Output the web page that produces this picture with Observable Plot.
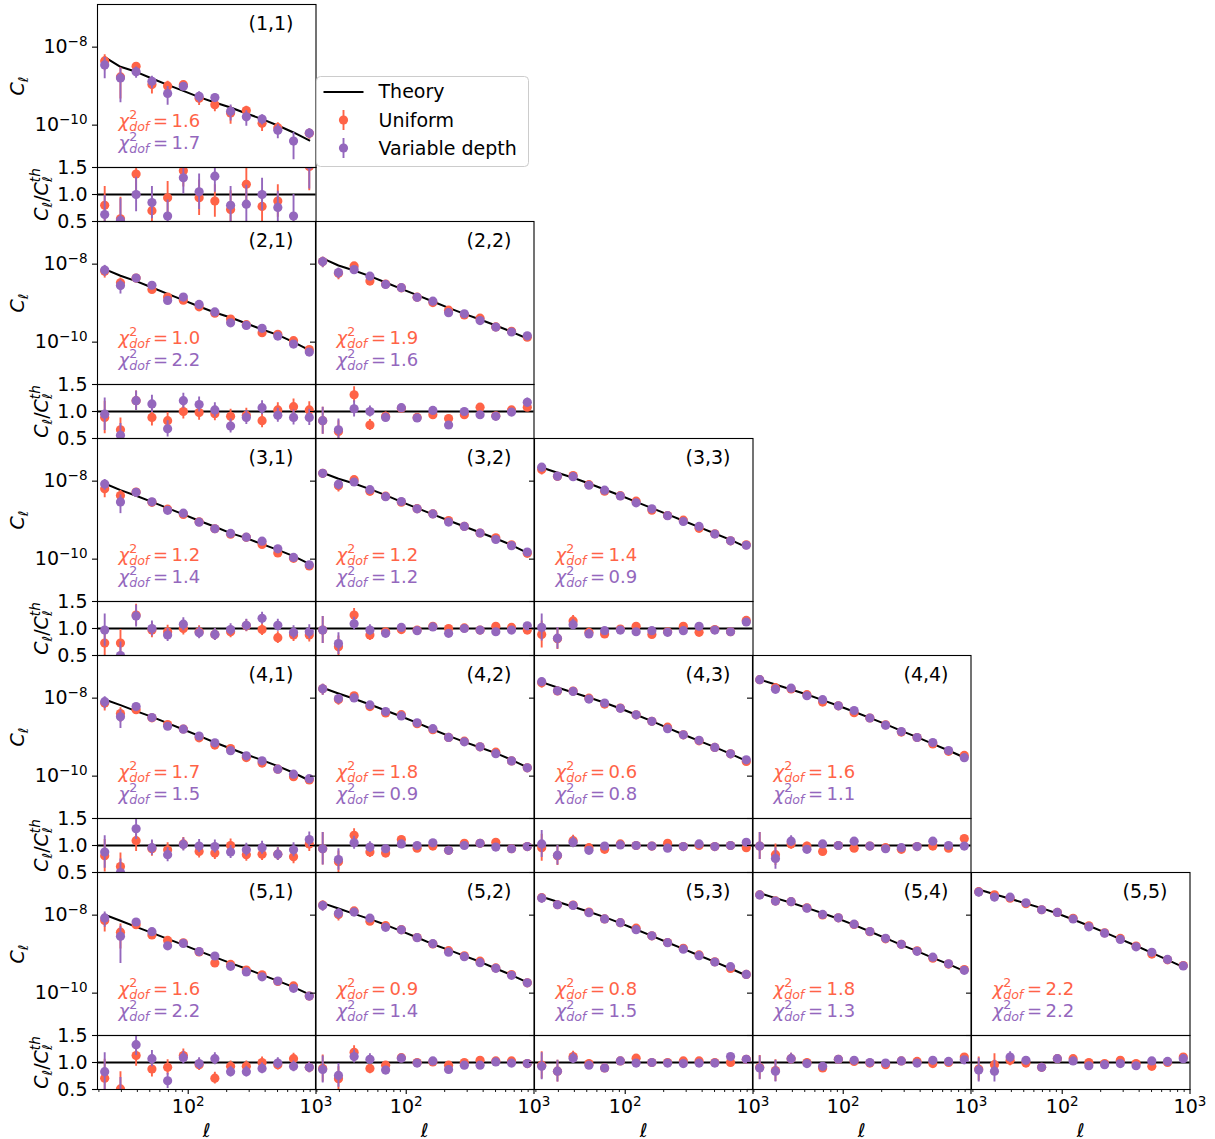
<!DOCTYPE html>
<html>
<head>
<meta charset="utf-8">
<script src="https://cdn.jsdelivr.net/npm/d3@7"></script>
<script src="https://cdn.jsdelivr.net/npm/@observablehq/plot@0.6"></script>
<style>
  body { margin: 0; background: #fff; }
  #fig { position: relative; width: 1215px; height: 1139px; font-family: "DejaVu Sans", sans-serif; }
  #fig > svg { position: absolute; }
</style>
</head>
<body>
<div id="fig"></div>
<script>
// ---------- data ----------
const ell = [22.2, 29.5, 39.1, 52.0, 69.0, 91.6, 121.7, 161.6, 214.6, 285.0, 378.4, 502.5, 667.2, 886.0];

const theory_1_1 = [5.55e-9, 3.13e-9, 2.33e-9, 1.57e-9, 1.08e-9, 7.59e-10, 5.22e-10, 3.81e-10, 2.84e-10, 1.99e-10, 1.43e-10, 9.80e-11, 6.49e-11, 4.05e-11];
const uniform_1_1 = [0.80, 0.55, 1.38, 0.70, 0.94, 1.44, 0.94, 0.88, 0.72, 1.19, 0.78, 0.88, null, 1.52];
const variable_1_1 = [0.63, 0.52, 1.00, 0.85, 0.60, 1.31, 1.05, 1.34, 0.80, 0.82, 1.00, 0.76, 0.60, 1.55];
const error_1_1 = [0.35, 0.40, 0.32, 0.30, 0.30, 0.30, 0.33, 0.30, 0.35, 0.35, 0.30, 0.30, 0.40, 0.45];

const theory_2_1 = [7.44e-9, 5.03e-9, 3.66e-9, 2.52e-9, 1.73e-9, 1.19e-9, 8.22e-10, 5.77e-10, 4.29e-10, 3.01e-10, 2.11e-10, 1.54e-10, 1.00e-10, 6.24e-11];
const uniform_2_1 = [0.89, 0.66, 1.20, 0.89, 0.83, 1.00, 0.98, 0.96, 0.91, 0.93, 0.83, 1.03, 1.09, 1.03];
const variable_2_1 = [0.95, 0.56, 1.20, 1.14, 0.68, 1.20, 1.13, 1.03, 0.73, 0.89, 1.07, 0.93, 0.89, 0.89];
const error_2_1 = [0.30, 0.22, 0.18, 0.16, 0.15, 0.14, 0.14, 0.13, 0.13, 0.13, 0.13, 0.13, 0.14, 0.15];

const theory_2_2 = [1.40e-8, 9.24e-9, 6.89e-9, 4.92e-9, 3.39e-9, 2.33e-9, 1.60e-9, 1.10e-9, 7.59e-10, 5.32e-10, 3.81e-10, 2.67e-10, 1.84e-10, 1.24e-10];
const uniform_2_2 = [0.83, 0.63, 1.31, 0.75, 0.91, 1.06, 0.89, 0.94, 0.87, 0.94, 1.08, 0.92, 1.03, 1.08];
const variable_2_2 = [0.83, 0.66, 1.05, 1.00, 0.89, 1.07, 0.88, 1.02, 0.75, 1.00, 0.94, 0.91, 0.99, 1.17];
const error_2_2 = [0.25, 0.20, 0.15, 0.10, 0.08, 0.07, 0.06, 0.06, 0.06, 0.06, 0.06, 0.06, 0.06, 0.08];

const theory_3_1 = [8.71e-9, 5.87e-9, 4.21e-9, 2.95e-9, 2.03e-9, 1.40e-9, 9.62e-10, 6.75e-10, 4.65e-10, 3.45e-10, 2.43e-10, 1.73e-10, 1.19e-10, 7.59e-11];
const uniform_3_1 = [0.73, 0.73, 1.25, 0.97, 0.94, 1.00, 0.94, 0.89, 0.94, 1.05, 0.98, 0.83, 0.88, 0.88];
const variable_3_1 = [0.97, 0.50, 1.23, 1.00, 0.88, 1.08, 0.92, 0.89, 0.98, 1.06, 1.19, 1.06, 0.93, 0.94];
const error_3_1 = [0.30, 0.25, 0.20, 0.14, 0.12, 0.12, 0.11, 0.11, 0.11, 0.11, 0.11, 0.11, 0.12, 0.13];

const theory_3_2 = [1.64e-8, 1.15e-8, 8.71e-9, 6.24e-9, 4.38e-9, 2.95e-9, 2.03e-9, 1.40e-9, 9.80e-10, 6.88e-10, 4.83e-10, 3.39e-10, 2.29e-10, 1.45e-10];
const uniform_3_2 = [0.97, 0.66, 1.25, 0.88, 0.94, 0.98, 0.97, 1.04, 1.00, 1.01, 0.97, 1.04, 1.02, 0.97];
const variable_3_2 = [0.97, 0.72, 1.09, 0.97, 0.91, 1.02, 0.96, 1.03, 0.91, 1.00, 0.97, 0.94, 0.97, 1.05];
const error_3_2 = [0.25, 0.20, 0.12, 0.10, 0.07, 0.06, 0.05, 0.05, 0.05, 0.05, 0.05, 0.05, 0.05, 0.05];

const theory_3_3 = [2.24e-8, 1.64e-8, 1.22e-8, 8.71e-9, 6.11e-9, 4.29e-9, 2.95e-9, 2.03e-9, 1.40e-9, 9.62e-10, 6.62e-10, 4.55e-10, 3.13e-10, 2.03e-10];
const uniform_3_3 = [0.89, 0.81, 1.14, 0.93, 0.90, 0.99, 1.04, 0.89, 0.94, 1.04, 0.93, 0.98, 0.94, 1.15];
const variable_3_3 = [1.02, 0.82, 1.07, 0.90, 0.96, 0.97, 0.94, 0.96, 0.93, 0.96, 1.04, 0.97, 0.94, 1.12];
const error_3_3 = [0.25, 0.20, 0.10, 0.08, 0.06, 0.05, 0.04, 0.04, 0.04, 0.04, 0.04, 0.04, 0.04, 0.05];

const theory_4_1 = [9.24e-9, 6.62e-9, 4.65e-9, 3.32e-9, 2.29e-9, 1.57e-9, 1.08e-9, 7.30e-10, 5.12e-10, 3.60e-10, 2.57e-10, 1.80e-10, 1.22e-10, 7.74e-11];
const uniform_4_1 = [0.81, 0.61, 1.09, 0.94, 0.92, 1.03, 0.89, 0.86, 1.00, 0.83, 0.84, 0.84, 0.79, 1.03];
const variable_4_1 = [0.88, 0.50, 1.31, 0.96, 0.83, 1.02, 0.99, 0.98, 0.88, 0.92, 0.96, 0.84, 0.92, 1.11];
const error_4_1 = [0.30, 0.25, 0.20, 0.14, 0.13, 0.12, 0.12, 0.12, 0.12, 0.12, 0.12, 0.12, 0.13, 0.14];

const theory_4_2 = [1.84e-8, 1.32e-8, 9.62e-9, 6.89e-9, 4.83e-9, 3.39e-9, 2.33e-9, 1.57e-9, 1.08e-9, 7.59e-10, 5.43e-10, 3.89e-10, 2.62e-10, 1.67e-10];
const uniform_4_2 = [0.94, 0.70, 1.19, 0.88, 0.86, 1.11, 0.95, 0.99, 0.91, 1.04, 1.04, 1.06, 0.94, 0.98];
const variable_4_2 = [0.94, 0.74, 1.05, 0.97, 0.94, 1.03, 1.00, 1.05, 0.91, 1.00, 1.04, 0.97, 0.94, 0.98];
const error_4_2 = [0.30, 0.20, 0.12, 0.10, 0.08, 0.06, 0.05, 0.05, 0.04, 0.04, 0.04, 0.04, 0.04, 0.04];

const theory_4_3 = [2.57e-8, 1.88e-8, 1.40e-8, 1.04e-8, 7.59e-9, 5.43e-9, 3.74e-9, 2.57e-9, 1.73e-9, 1.17e-9, 8.05e-10, 5.55e-10, 3.74e-10, 2.47e-10];
const uniform_4_3 = [0.96, 0.81, 1.09, 0.96, 0.93, 1.03, 1.00, 0.99, 1.04, 0.98, 1.00, 0.98, 1.00, 0.96];
const variable_4_3 = [1.03, 0.82, 1.06, 0.91, 0.99, 1.01, 1.00, 0.99, 0.95, 0.98, 1.03, 0.98, 1.00, 1.06];
const error_4_3 = [0.25, 0.18, 0.10, 0.07, 0.05, 0.04, 0.04, 0.03, 0.03, 0.03, 0.03, 0.03, 0.03, 0.03];

const theory_4_4 = [3.01e-8, 2.24e-8, 1.67e-8, 1.24e-8, 8.89e-9, 6.36e-9, 4.47e-9, 3.13e-9, 2.15e-9, 1.45e-9, 1.00e-9, 6.75e-10, 4.55e-10, 3.01e-10];
const uniform_4_4 = [0.99, 0.83, 1.03, 0.99, 0.89, 1.00, 0.95, 0.99, 0.96, 0.93, 0.98, 0.99, 0.95, 1.13];
const variable_4_4 = [0.99, 0.76, 1.08, 0.93, 1.03, 1.00, 1.08, 0.99, 0.94, 0.96, 0.98, 1.08, 1.00, 0.99];
const error_4_4 = [0.25, 0.20, 0.10, 0.07, 0.05, 0.04, 0.04, 0.03, 0.03, 0.03, 0.03, 0.03, 0.03, 0.03];

const theory_5_1 = [1.02e-8, 7.16e-9, 5.02e-9, 3.52e-9, 2.47e-9, 1.73e-9, 1.19e-9, 8.38e-10, 5.87e-10, 4.21e-10, 2.95e-10, 2.07e-10, 1.43e-10, 9.25e-11];
const uniform_5_1 = [0.71, 0.51, 1.13, 0.88, 0.91, 1.13, 0.96, 0.71, 0.93, 0.93, 1.00, 0.96, 1.07, 0.91];
const variable_5_1 = [0.83, 0.40, 1.33, 1.07, 0.66, 1.09, 0.98, 1.07, 0.83, 0.83, 0.89, 0.99, 0.93, 0.91];
const error_5_1 = [0.35, 0.32, 0.20, 0.15, 0.14, 0.12, 0.11, 0.11, 0.10, 0.10, 0.10, 0.10, 0.10, 0.10];

const theory_5_2 = [2.03e-8, 1.48e-8, 1.08e-8, 7.89e-9, 5.65e-9, 3.89e-9, 2.67e-9, 1.80e-9, 1.29e-9, 9.06e-10, 6.36e-10, 4.29e-10, 2.90e-10, 1.88e-10];
const uniform_5_2 = [0.89, 0.70, 1.19, 0.89, 0.95, 1.09, 1.00, 1.01, 0.95, 1.00, 1.04, 1.03, 1.03, 0.98];
const variable_5_2 = [0.87, 0.76, 1.11, 1.06, 0.86, 1.08, 0.99, 1.03, 0.87, 0.95, 0.95, 1.01, 0.99, 0.98];
const error_5_2 = [0.25, 0.22, 0.12, 0.10, 0.07, 0.05, 0.04, 0.04, 0.04, 0.04, 0.04, 0.04, 0.04, 0.04];

const theory_5_3 = [2.95e-8, 2.20e-8, 1.64e-8, 1.22e-8, 8.89e-9, 6.24e-9, 4.29e-9, 2.95e-9, 1.99e-9, 1.37e-9, 9.25e-10, 6.36e-10, 4.29e-10, 2.84e-10];
const uniform_5_3 = [0.95, 0.84, 1.11, 0.98, 0.90, 1.03, 1.08, 1.00, 1.00, 1.03, 1.03, 1.00, 1.00, 1.06];
const variable_5_3 = [0.93, 0.84, 1.08, 0.95, 0.90, 1.03, 0.99, 1.00, 0.99, 0.98, 0.99, 0.99, 1.11, 1.06];
const error_5_3 = [0.25, 0.20, 0.10, 0.07, 0.05, 0.04, 0.03, 0.03, 0.03, 0.03, 0.03, 0.03, 0.03, 0.03];

const theory_5_4 = [3.66e-8, 2.73e-8, 2.07e-8, 1.54e-8, 1.12e-8, 8.05e-9, 5.65e-9, 3.81e-9, 2.57e-9, 1.73e-9, 1.19e-9, 8.05e-10, 5.55e-10, 3.66e-10];
const uniform_5_4 = [0.91, 0.85, 1.07, 1.00, 0.90, 1.06, 1.02, 0.99, 0.96, 1.03, 1.02, 0.98, 1.00, 1.10];
const variable_5_4 = [0.90, 0.84, 1.07, 0.98, 0.93, 1.06, 1.04, 1.00, 0.99, 1.03, 0.99, 1.04, 1.02, 1.05];
const error_5_4 = [0.22, 0.20, 0.10, 0.07, 0.05, 0.04, 0.03, 0.03, 0.03, 0.03, 0.03, 0.03, 0.03, 0.03];

const theory_5_5 = [4.55e-8, 3.45e-8, 2.62e-8, 1.99e-8, 1.51e-8, 1.10e-8, 7.74e-9, 5.33e-9, 3.60e-9, 2.43e-9, 1.64e-9, 1.08e-9, 7.16e-10, 4.65e-10];
const uniform_5_5 = [0.88, 0.96, 1.04, 0.99, 0.91, 1.07, 1.07, 1.00, 0.98, 1.04, 0.98, 0.93, 1.00, 1.10];
const variable_5_5 = [0.86, 0.84, 1.10, 1.04, 0.91, 1.07, 1.03, 0.94, 0.96, 0.98, 0.94, 1.03, 1.02, 1.07];
const error_5_5 = [0.22, 0.20, 0.10, 0.07, 0.05, 0.04, 0.03, 0.03, 0.03, 0.03, 0.03, 0.03, 0.03, 0.03];

const panelRows = [1, 2, 2, 3, 3, 3, 4, 4, 4, 4, 5, 5, 5, 5, 5];
const panelCols = [1, 1, 2, 1, 2, 3, 1, 2, 3, 4, 1, 2, 3, 4, 5];
const chiUniform  = ["1.6", "1.0", "1.9", "1.2", "1.2", "1.4", "1.7", "1.8", "0.6", "1.6", "1.6", "0.9", "0.8", "1.8", "2.2"];
const chiVariable = ["1.7", "2.2", "1.6", "1.4", "1.2", "0.9", "1.5", "0.9", "0.8", "1.1", "2.2", "1.4", "1.5", "1.3", "2.2"];

const yTicksTop = [1e-8, 1e-10];
const yTicksRatio = [0.5, 1.0, 1.5];
const xTicksMajor = [100, 1000];
const xTicksMinor = [20, 30, 40, 50, 60, 70, 80, 90, 200, 300, 400, 500, 600, 700, 800, 900];
const legendLabels = ["Theory", "Uniform", "Variable depth"];

// ---------- layout / style ----------
const RED = "#ff6347", PURPLE = "#9467bd";
const L0 = 96.7, CW = 218.5, T0 = 4, RH = 217, TH = 163, RTH = 54;
const FS = 19, SUB = 13.5, CHI_FS = 18, CHI_SUB = 12.6;
const xDomain = [19.5, 1000];
const yDomainTop = [8.2e-12, 1.24e-7];
const yDomainRatio = [0.5, 1.5];

const lookup = {
  "1,1": [theory_1_1, uniform_1_1, variable_1_1, error_1_1],
  "2,1": [theory_2_1, uniform_2_1, variable_2_1, error_2_1],
  "2,2": [theory_2_2, uniform_2_2, variable_2_2, error_2_2],
  "3,1": [theory_3_1, uniform_3_1, variable_3_1, error_3_1],
  "3,2": [theory_3_2, uniform_3_2, variable_3_2, error_3_2],
  "3,3": [theory_3_3, uniform_3_3, variable_3_3, error_3_3],
  "4,1": [theory_4_1, uniform_4_1, variable_4_1, error_4_1],
  "4,2": [theory_4_2, uniform_4_2, variable_4_2, error_4_2],
  "4,3": [theory_4_3, uniform_4_3, variable_4_3, error_4_3],
  "4,4": [theory_4_4, uniform_4_4, variable_4_4, error_4_4],
  "5,1": [theory_5_1, uniform_5_1, variable_5_1, error_5_1],
  "5,2": [theory_5_2, uniform_5_2, variable_5_2, error_5_2],
  "5,3": [theory_5_3, uniform_5_3, variable_5_3, error_5_3],
  "5,4": [theory_5_4, uniform_5_4, variable_5_4, error_5_4],
  "5,5": [theory_5_5, uniform_5_5, variable_5_5, error_5_5]
};

const svgStyle = {
  fontFamily: "'DejaVu Sans', sans-serif",
  fontSize: FS + "px",
  background: "transparent",
  overflow: "visible",
  color: "black"
};

const powFmt = d => "10^" + String(Math.round(Math.log10(d))).replace("-", "\u2212");
const blank = () => "";

// rich text (super/subscripts) as tspans
const NS = "http://www.w3.org/2000/svg";
function setParts(t, parts) {
  while (t.firstChild) t.removeChild(t.firstChild);
  for (const p of parts) {
    const ts = document.createElementNS(NS, "tspan");
    ts.textContent = p.t;
    if (p.size) ts.setAttribute("font-size", p.size);
    if (p.dy) ts.setAttribute("dy", p.dy);
    if (p.dx) ts.setAttribute("dx", p.dx);
    if (p.it) ts.setAttribute("font-style", "italic");
    t.appendChild(ts);
  }
}
function richify(svg) {
  svg.querySelectorAll("text").forEach(t => {
    if (t.querySelector("tspan")) return;
    const s = t.textContent;
    let m;
    if ((m = s.match(/^10\^(.+)$/))) {
      setParts(t, [{t: "10"}, {t: m[1], size: SUB, dy: -7.5}]);
    } else if ((m = s.match(/^χ2dof = (.+)$/))) {
      setParts(t, [
        {t: "χ", it: true},
        {t: "2", size: CHI_SUB, dy: -7.5},
        {t: "dof", size: CHI_SUB, it: true, dx: -8.0, dy: 11.5},
        {t: "\u2009=\u2009" + m[1], dy: -4}
      ]);
    } else if (s === "Cℓ") {
      setParts(t, [{t: "C", it: true}, {t: "ℓ", size: SUB, dy: 4.5}]);
    } else if (s === "Cℓ/Cℓth") {
      setParts(t, [
        {t: "C", it: true},
        {t: "ℓ", size: SUB, dy: 4.5},
        {t: "/", dy: -4.5},
        {t: "C", it: true},
        {t: "th", size: SUB, it: true, dy: -8},
        {t: "ℓ", size: SUB, dx: -13.8, dy: 12.5}
      ]);
    } else if (s === "ℓ") {
      t.setAttribute("font-style", "italic");
    }
  });
}

const fig = document.getElementById("fig");
function place(svg, left, top) {
  svg.style.position = "absolute";
  svg.style.left = left + "px";
  svg.style.top = top + "px";
  richify(svg);
  fig.appendChild(svg);
}

panelRows.forEach((i, k) => {
  const j = panelCols[k];
  const [th, uni, vari, err] = lookup[i + "," + j];
  const rows = ell.map((l, n) => ({ell: l, th: th[n], u: uni[n], v: vari[n], e: err[n]}));
  const series = key => rows.filter(d => d[key] != null).map(d => ({
    ell: d.ell,
    r: d[key], rlo: d[key] - d.e, rhi: d[key] + d.e,
    c: d[key] * d.th, clo: Math.max((d[key] - d.e) * d.th, 1e-15), chi: (d[key] + d.e) * d.th
  }));
  const U = series("u"), V = series("v");
  const left = L0 + (j - 1) * CW;
  const top = T0 + (i - 1) * RH;

  // ---- upper panel: C_ell ----
  const topMarks = [
    Plot.line(rows, {x: "ell", y: "th", stroke: "black", strokeWidth: 2, clip: true}),
    Plot.ruleX(U, {x: "ell", y1: "clo", y2: "chi", stroke: RED, strokeWidth: 1.9, clip: true}),
    Plot.dot(U, {x: "ell", y: "c", r: 4.6, fill: RED, clip: true}),
    Plot.ruleX(V, {x: "ell", y1: "clo", y2: "chi", stroke: PURPLE, strokeWidth: 1.9, clip: true}),
    Plot.dot(V, {x: "ell", y: "c", r: 4.6, fill: PURPLE, clip: true}),
    Plot.frame({stroke: "black", strokeWidth: 1.1}),
    Plot.axisY({ticks: yTicksTop, tickSize: 5, tickPadding: 5, strokeWidth: 1.1,
      tickFormat: j === 1 ? powFmt : blank, label: null}),
    Plot.text([`(${i},${j})`], {frameAnchor: "top-left", dx: 173.5, dy: 25, text: d => d,
      textAnchor: "middle", lineAnchor: "bottom", fill: "black"}),
    Plot.text([`χ2dof = ${chiUniform[k]}`], {frameAnchor: "top-left", dx: 21, dy: 122, text: d => d,
      textAnchor: "start", lineAnchor: "bottom", fill: RED, fontSize: CHI_FS}),
    Plot.text([`χ2dof = ${chiVariable[k]}`], {frameAnchor: "top-left", dx: 21, dy: 144, text: d => d,
      textAnchor: "start", lineAnchor: "bottom", fill: PURPLE, fontSize: CHI_FS})
  ];
  if (j === 1) {
    topMarks.push(Plot.text(["Cℓ"], {frameAnchor: "left", dx: -(L0 - 23), rotate: -90, text: d => d,
      textAnchor: "middle", lineAnchor: "bottom", fill: "black"}));
  }
  const topSvg = Plot.plot({
    width: CW, height: TH,
    marginTop: 0, marginRight: 0, marginBottom: 0, marginLeft: 0,
    x: {type: "log", domain: xDomain, axis: null, label: null},
    y: {type: "log", domain: yDomainTop, axis: null, label: null},
    style: svgStyle,
    marks: topMarks
  });
  place(topSvg, left, top);

  // ---- lower panel: ratio ----
  const ratMarks = [
    Plot.ruleY([1], {stroke: "black", strokeWidth: 2}),
    Plot.ruleX(U, {x: "ell", y1: "rlo", y2: "rhi", stroke: RED, strokeWidth: 1.9, clip: true}),
    Plot.dot(U, {x: "ell", y: "r", r: 4.6, fill: RED, clip: true}),
    Plot.ruleX(V, {x: "ell", y1: "rlo", y2: "rhi", stroke: PURPLE, strokeWidth: 1.9, clip: true}),
    Plot.dot(V, {x: "ell", y: "r", r: 4.6, fill: PURPLE, clip: true}),
    Plot.frame({stroke: "black", strokeWidth: 1.1}),
    Plot.axisY({ticks: yTicksRatio, tickSize: 5, tickPadding: 5, strokeWidth: 1.1,
      tickFormat: j === 1 ? d3.format(".1f") : blank, label: null})
  ];
  if (j === 1) {
    ratMarks.push(Plot.text(["Cℓ/Cℓth"], {frameAnchor: "left", dx: -(L0 - 47), rotate: -90, text: d => d,
      textAnchor: "middle", lineAnchor: "bottom", fill: "black"}));
  }
  if (i === 5) {
    ratMarks.push(
      Plot.axisX({ticks: xTicksMajor, tickSize: 5, tickPadding: 5, strokeWidth: 1.1, tickFormat: powFmt, label: null}),
      Plot.axisX({ticks: xTicksMinor, tickSize: 3, strokeWidth: 0.9, tickFormat: blank, label: null}),
      Plot.text(["ℓ"], {frameAnchor: "bottom", dy: 47, text: d => d, textAnchor: "middle", lineAnchor: "bottom", fill: "black"})
    );
  }
  const ratSvg = Plot.plot({
    width: CW, height: RTH,
    marginTop: 0, marginRight: 0, marginBottom: 0, marginLeft: 0,
    x: {type: "log", domain: xDomain, axis: null, label: null},
    y: {type: "linear", domain: yDomainRatio, axis: null, label: null},
    style: svgStyle,
    marks: ratMarks
  });
  place(ratSvg, left, top + TH);
});

// ---------- legend ----------
const leg = document.createElementNS(NS, "svg");
leg.setAttribute("width", 213);
leg.setAttribute("height", 91);
leg.style.position = "absolute";
leg.style.left = "315.5px";
leg.style.top = "76px";
leg.style.overflow = "visible";
leg.style.fontFamily = "'DejaVu Sans', sans-serif";
leg.style.fontSize = FS + "px";
leg.innerHTML = `
  <rect x="0.5" y="0.5" width="212" height="90" rx="4" fill="white" fill-opacity="0.8" stroke="#cccccc" stroke-width="1"/>
  <line x1="7.5" x2="47.5" y1="16" y2="16" stroke="black" stroke-width="2"/>
  <line x1="27.5" x2="27.5" y1="34" y2="54" stroke="${RED}" stroke-width="1.9"/>
  <circle cx="27.5" cy="44" r="4.6" fill="${RED}"/>
  <line x1="27.5" x2="27.5" y1="62" y2="82" stroke="${PURPLE}" stroke-width="1.9"/>
  <circle cx="27.5" cy="72" r="4.6" fill="${PURPLE}"/>
  <text x="62.5" y="22.4" fill="black">${legendLabels[0]}</text>
  <text x="62.5" y="50.7" fill="black">${legendLabels[1]}</text>
  <text x="62.5" y="79" fill="black">${legendLabels[2]}</text>`;
fig.appendChild(leg);
</script>
</body>
</html>
